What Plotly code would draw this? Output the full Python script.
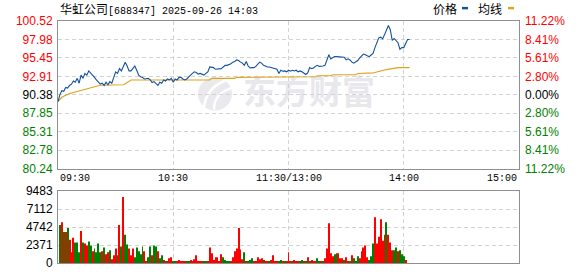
import plotly.graph_objects as go

# ---------------- data ----------------
stock_name = "华虹公司"
stock_code = "[688347]"
stamp = "2025-09-26 14:03"
prev_close = 90.38

price_ticks = [80.24, 82.78, 85.31, 87.85, 90.38, 92.91, 95.45, 97.98, 100.52]
pct_labels = ["11.22%", "8.41%", "5.61%", "2.80%", "0.00%", "2.80%", "5.61%", "8.41%", "11.22%"]
vol_ticks = [0, 2371, 4742, 7112, 9483]
time_ticks = [0, 60, 120, 180, 240]
time_labels = ["09:30", "10:30", "11:30/13:00", "14:00", "15:00"]

# minute-by-minute price, 09:30 .. 14:03 (index 0..183)
price = [
    89.45, 90.42, 90.96, 90.87, 91.40, 91.31, 91.67, 91.85, 92.29, 92.12,
    92.65, 91.98, 93.09, 92.65, 93.32, 93.09, 93.67, 93.40, 93.09, 92.78,
    92.43, 92.20, 91.85, 91.98, 91.67, 92.12, 91.76, 92.20, 91.98, 92.74,
    93.54, 93.32, 93.98, 93.67, 94.21, 94.87, 94.34, 93.67, 93.67, 93.98,
    94.34, 93.76, 93.09, 92.87, 92.78, 92.56, 92.65, 92.65, 92.43, 92.07,
    92.20, 91.98, 91.67, 92.12, 91.98, 92.43, 92.29, 92.56, 92.43, 92.65,
    92.12, 92.56, 92.43, 92.78,
    92.78, 92.56, 92.43, 92.56, 92.87, 93.09, 93.32, 93.54, 93.45, 93.23,
    93.32, 93.23, 93.09, 93.32, 93.54, 94.21, 94.21, 94.12, 93.89, 93.89,
    93.89, 93.98, 94.21, 94.43, 94.43, 94.52, 94.65, 94.87, 94.96, 95.18,
    95.09, 94.87, 94.74, 94.43, 94.96, 94.34, 94.07, 94.12, 94.12, 94.29,
    94.65, 94.87, 94.74, 94.43, 94.34, 94.21, 94.21, 94.12, 94.07, 93.98,
    93.89, 93.32, 93.76, 93.63, 93.67, 93.54, 93.76, 93.63, 93.76,
    93.67, 93.76, 93.54, 93.67, 93.54, 93.40, 93.18, 93.40, 94.12, 93.98,
    94.07, 94.29, 94.43, 94.29, 94.29, 94.34, 94.43, 95.09, 95.89, 95.32,
    95.54, 95.63, 95.63, 95.63, 95.54, 95.54, 95.54, 95.18, 95.32, 95.18,
    94.87, 94.74, 94.87, 95.09, 95.41, 95.76, 95.98, 95.89, 95.76, 95.63,
    95.85, 96.07, 96.87, 97.54, 98.21, 98.30, 98.07, 98.65, 99.32, 99.90,
    99.32, 97.85, 98.12, 97.76, 97.54, 96.65, 96.87, 96.87, 97.54, 97.98,
    97.98,
]

# minute-by-minute average price (均线)
avg = [
    89.45, 89.80, 90.05, 90.20, 90.35, 90.45, 90.55, 90.65, 90.72, 90.80,
    90.88, 90.96, 91.02, 91.10, 91.18, 91.25, 91.31, 91.38, 91.45, 91.52,
    91.60, 91.67, 91.70, 91.70, 91.70, 91.76, 91.76, 91.76, 91.76, 91.76,
    91.76, 91.76, 91.76, 91.76, 91.76, 91.90, 92.10, 92.30, 92.43, 92.43,
    92.43, 92.43, 92.43, 92.43, 92.43, 92.43, 92.43, 92.43, 92.43, 92.43,
    92.43, 92.43, 92.43, 92.43, 92.43, 92.43, 92.43, 92.43, 92.43, 92.43,
    92.43, 92.43, 92.43, 92.43, 92.43, 92.43, 92.43, 92.43, 92.43, 92.43,
    92.43, 92.43, 92.43, 92.43, 92.43, 92.43, 92.43, 92.43, 92.43, 92.43,
    92.65, 92.65, 92.65, 92.65, 92.65, 92.65, 92.65, 92.65, 92.65, 92.65,
    92.65, 92.65, 92.65, 92.78, 92.78, 92.78, 92.78, 92.87, 92.87, 92.87,
    92.87, 92.87, 92.87, 92.87, 92.87, 92.87, 92.87, 92.87, 92.87, 92.87,
    92.87, 92.87, 92.87, 92.87, 92.87, 92.87, 92.87, 92.87, 92.87, 92.87,
    92.87, 92.87, 92.87, 92.87, 92.87, 92.87, 92.87, 92.87, 92.87, 92.87,
    92.87, 92.87, 92.87, 92.87, 92.87, 93.00, 93.00, 93.00, 93.00, 93.00,
    93.00, 93.00, 93.00, 93.14, 93.14, 93.14, 93.14, 93.14, 93.14, 93.14,
    93.14, 93.14, 93.14, 93.14, 93.14, 93.14, 93.31, 93.31, 93.31, 93.31,
    93.31, 93.31, 93.31, 93.31, 93.40, 93.45, 93.54, 93.60, 93.67, 93.72,
    93.80, 93.85, 93.90, 93.98, 94.03, 94.07, 94.12, 94.12, 94.12, 94.12,
    94.12, 94.12, 94.12, 94.12,
]

# per-minute volume from 09:31 (index 1) onward, and up/down direction
volume = [
    5000, 5380, 4100, 4100, 4610, 3070, 1410, 3330, 2690, 2690,
    1410, 4230, 2690, 2560, 2300, 2820, 2300, 1540, 1920, 1410,
    2560, 1410, 1540, 2050, 1150, 1410, 1670, 510, 1020, 1920,
    1020, 5000, 2180, 8710, 3710, 2430, 1920, 1020, 1920, 770,
    2050, 1540, 1150, 2180, 1540, 260, 770, 2180, 1020, 2300,
    2180, 1540, 640, 1020, 380, 130, 130, 640, 770, 260,
    130, 130, 380, 260, 260, 260, 130, 130, 380, 260,
    510, 1020, 130, 130, 260, 130, 260, 260, 2050, 1280,
    380, 770, 770, 260, 1150, 770, 380, 260, 260, 130,
    770, 1540, 1920, 4610, 1790, 510, 1410, 260, 260, 380,
    640, 130, 130, 770, 510, 640, 380, 130, 130, 260,
    380, 1020, 260, 260, 130, 380, 260, 260, 130, 1410,
    130, 130, 380, 130, 130, 130, 380, 130, 260, 770,
    260, 380, 260, 260, 640, 130, 260, 130, 640, 1920,
    5250, 1280, 900, 1150, 1280, 1280, 640, 640, 380, 770,
    260, 260, 1020, 640, 260, 900, 640, 1540, 2050, 2300,
    770, 380, 900, 2560, 6020, 2560, 3460, 5760, 2950, 3710,
    5380, 3710, 2690, 1670, 1670, 2050, 1540, 1670, 1150, 900,
    380,
]
vol_dir = list(
    "grgrgrrrgg" "grgrrggrgg" "ggrgrrgrrr" "grgrggrrrg" "gggg" "rrggrggrgg"
    "rgrrrggrrr" "rrggrrrrrr" "rggrrrrrrr" "rgggg" "rrrrrrrg" "rgggrrrrrg"
    "rrgrrrrggrgrrrg"
    "rrrggrgrgrrrggrgrrrr" "rggrrrgrrgrggg" "rrrrrgggrrrrrrgrrrggrgggrrr"
)
vol_dir = (vol_dir + ["r"] * len(volume))[:len(volume)]

# ---------------- styling ----------------
W, H = 578, 276
L, R, T, B = 58, 519, 21, 270
PRICE_BOTTOM = 173
VOL_TOP = 196

def px(x):
    return (x - L) / (R - L)

def py(y):
    return (B - y) / (B - T)

RED = "#ff0000"
GREEN = "#008000"
BLUE = "#12509f"
GOLD = "#dea21b"
GRID = "#d2d2d2"
FRAME = "#8f8f8f"
NUM_FONT = "Liberation Sans, Arial, sans-serif"
MONO = "Liberation Mono, DejaVu Sans Mono, monospace"
CJK = "Noto Sans CJK SC, sans-serif"

def col(v):
    if abs(v - prev_close) < 1e-6:
        return "#000000"
    return RED if v > prev_close else GREEN

left_text = [f'<span style="color:{col(v)}">{v:.2f}</span>' for v in price_ticks]
right_text = [f'<span style="color:{col(v)}">{t}</span>' for v, t in zip(price_ticks, pct_labels)]

minutes = list(range(len(price)))
vol_x = list(range(1, len(volume) + 1))

fig = go.Figure()
fig.add_trace(go.Scatter(x=minutes, y=avg, mode="lines", line=dict(color=GOLD, width=1.1),
                         xaxis="x", yaxis="y", hoverinfo="skip"))
fig.add_trace(go.Scatter(x=minutes, y=price, mode="lines", line=dict(color=BLUE, width=1.1),
                         xaxis="x", yaxis="y", hoverinfo="skip"))
fig.add_trace(go.Bar(x=vol_x, y=volume, width=0.5,
                     marker=dict(color=[RED if d == "r" else GREEN for d in vol_dir], line=dict(width=0)),
                     xaxis="x2", yaxis="y3", hoverinfo="skip"))

xcommon = dict(range=[0, 240], tickvals=time_ticks[1:-1], showticklabels=False, ticks="",
               showgrid=True, gridcolor=GRID, griddash="4px,3px", gridwidth=1,
               showline=True, linecolor=FRAME, linewidth=1, mirror=True, zeroline=False,
               fixedrange=True)

fig.update_layout(
    width=W, height=H,
    margin=dict(l=L, r=W - R, t=T, b=H - B, pad=0),
    paper_bgcolor="white", plot_bgcolor="white",
    showlegend=False,
    xaxis=dict(domain=[0, 1], anchor="y", **xcommon),
    xaxis2=dict(domain=[0, 1], anchor="y3", matches="x", **xcommon),
    yaxis=dict(domain=[py(PRICE_BOTTOM), 1], range=[price_ticks[0], price_ticks[-1]],
               tickvals=price_ticks, ticktext=left_text, ticks="", ticklabelstandoff=2,
               tickfont=dict(family=NUM_FONT, size=12),
               showgrid=True, gridcolor=GRID, griddash="4px,3px", gridwidth=1,
               showline=True, linecolor=FRAME, linewidth=1, mirror=True, zeroline=False,
               fixedrange=True),
    yaxis2=dict(overlaying="y", side="right", anchor="x", range=[price_ticks[0], price_ticks[-1]],
                tickvals=price_ticks, ticktext=right_text, ticks="", ticklabelstandoff=5,
                tickfont=dict(family=NUM_FONT, size=12),
                showgrid=False, showline=False, zeroline=False, fixedrange=True),
    yaxis3=dict(domain=[0, py(VOL_TOP)], anchor="x2", range=[0, vol_ticks[-1]],
                tickvals=vol_ticks, ticktext=[str(v) for v in vol_ticks], ticks="",
                ticklabelstandoff=2,
                tickfont=dict(family=NUM_FONT, size=12, color="#000000"),
                showgrid=True, gridcolor=GRID, griddash="4px,3px", gridwidth=1,
                showline=True, linecolor=FRAME, linewidth=1, mirror=True, zeroline=False,
                fixedrange=True),
)
# invisible trace so the right axis is drawn
fig.add_trace(go.Scatter(x=[0], y=[prev_close], mode="markers", marker=dict(opacity=0),
                         xaxis="x", yaxis="y2", hoverinfo="skip"))

annotations = []
# title
annotations.append(dict(
    xref="paper", yref="paper", x=0, y=py(8), xanchor="left", yanchor="middle", showarrow=False,
    text=(f'<span style="font-family:{CJK};font-size:12px">{stock_name}</span>'
          f'<span style="font-family:{MONO};font-size:10px">{stock_code} {stamp}</span>'),
    font=dict(family=MONO, size=10, color="#000000")))
# legend labels
annotations.append(dict(xref="paper", yref="paper", x=px(430.5), y=py(8), xanchor="left", yanchor="middle",
                        showarrow=False, text="价格", font=dict(family=CJK, size=12, color="#000000")))
annotations.append(dict(xref="paper", yref="paper", x=px(476), y=py(8), xanchor="left", yanchor="middle",
                        showarrow=False, text="均线", font=dict(family=CJK, size=12, color="#000000")))
# time labels
for i, (t, lab) in enumerate(zip(time_ticks, time_labels)):
    anchor = "left" if i == 0 else ("right" if i == len(time_ticks) - 1 else "center")
    annotations.append(dict(xref="x", yref="paper", x=t, y=py(183.5), xanchor=anchor, yanchor="middle",
                            showarrow=False, text=lab, font=dict(family=MONO, size=10, color="#000000")))
fig.update_layout(annotations=annotations)

shapes = [
    # legend swatches
    dict(type="rect", xref="paper", yref="paper", x0=px(462), x1=px(468), y0=py(9), y1=py(6.5),
         fillcolor=BLUE, line=dict(width=0), layer="above"),
    dict(type="rect", xref="paper", yref="paper", x0=px(508), x1=px(514), y0=py(9), y1=py(6.5),
         fillcolor=GOLD, line=dict(width=0), layer="above"),
    # watermark text
    dict(type="rect", xref="paper", yref="paper", x0=px(236), x1=px(382), y0=py(114), y1=py(80),
         fillcolor="rgba(0,0,0,0)", line=dict(width=0), layer="below",
         label=dict(text="<b>东方财富</b>", font=dict(family=CJK, size=33, color="#e7e7ec"))),
    # watermark logo (rough)
    dict(type="circle", xref="paper", yref="paper", x0=px(198), x1=px(232), y0=py(113), y1=py(79),
         fillcolor="#e9e9ee", line=dict(width=0), layer="below"),
    dict(type="path", xref="paper", yref="paper", layer="below", fillcolor="rgba(0,0,0,0)",
         line=dict(color="white", width=2.5),
         path=f"M {px(204)} {py(110)} Q {px(206)} {py(90)} {px(226)} {py(82)}"),
    dict(type="path", xref="paper", yref="paper", layer="below", fillcolor="rgba(0,0,0,0)",
         line=dict(color="white", width=2.5),
         path=f"M {px(214)} {py(112)} Q {px(214)} {py(96)} {px(231)} {py(90)}"),
]
fig.update_layout(shapes=shapes)

fig.write_html("out.html", config={"displayModeBar": False})
